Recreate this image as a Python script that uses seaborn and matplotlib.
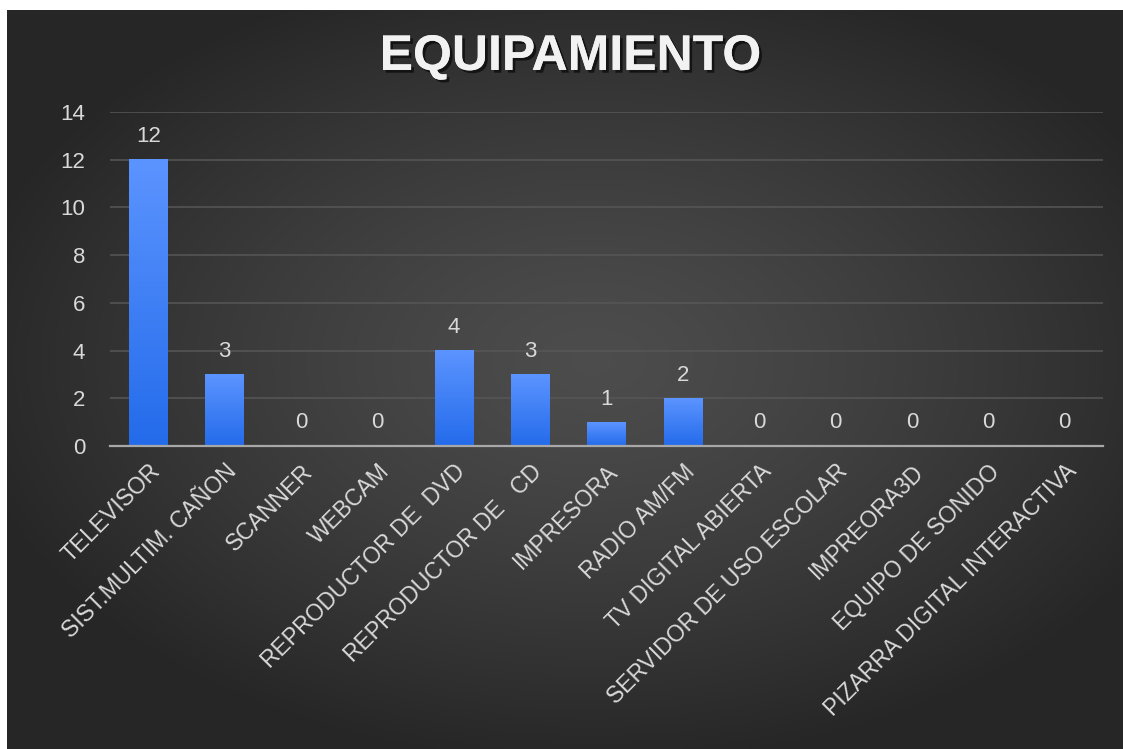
import numpy as np
import matplotlib
matplotlib.use("Agg")
import matplotlib.pyplot as plt
import matplotlib.patheffects as pe
import seaborn as sns

# datos
equipos = ['TELEVISOR', 'SIST.MULTIM. CAÑON', 'SCANNER', 'WEBCAM',
           'REPRODUCTOR DE  DVD', 'REPRODUCTOR DE   CD', 'IMPRESORA',
           'RADIO AM/FM', 'TV DIGITAL ABIERTA', 'SERVIDOR DE USO ESCOLAR',
           'IMPREORA3D', 'EQUIPO DE SONIDO', 'PIZARRA DIGITAL INTERACTIVA']
cantidades = [12, 3, 0, 0, 4, 3, 1, 2, 0, 0, 0, 0, 0]
yticks = [0, 2, 4, 6, 8, 10, 12, 14]
titulo = 'EQUIPAMIENTO'

sns.set_style("dark")
plt.rcParams['font.family'] = ['Liberation Sans', 'DejaVu Sans']
txt_color = '#d9d9d9'

fig = plt.figure(figsize=(11.23, 7.49), dpi=100, facecolor='white')

# fondo oscuro con degradado radial
bg = fig.add_axes([7 / 1123, 0, 1 - 7 / 1123, 1 - 10 / 749], zorder=0)
gx, gy = np.meshgrid(np.linspace(-1, 1, 400), np.linspace(-1, 1, 300))
r = np.sqrt(((gx - 0.05) / 1.15) ** 2 + ((gy - 0.05) / 1.1) ** 2)
r = np.clip(r, 0, 1)
shade = 0.30 - 0.15 * r ** 1.3
bg.imshow(np.dstack([shade, shade, shade]), extent=[0, 1, 0, 1],
          aspect='auto', origin='lower')
bg.set_axis_off()

ax = fig.add_axes([110 / 1123, 1 - 446 / 749, (1103 - 110) / 1123,
                   (446 - 112) / 749], zorder=1)
ax.set_facecolor('none')

sns.barplot(x=equipos, y=cantidades, color='#3a7ff2', width=0.5,
            edgecolor='none', linewidth=0, ax=ax, zorder=3)

# degradado dentro de cada barra
grad = np.linspace(0, 1, 100).reshape(-1, 1)
top = np.array([0.36, 0.58, 1.0])
bot = np.array([0.14, 0.42, 0.92])
img = bot + (top - bot) * grad[:, :, None]
for p in ax.patches:
    if p.get_height() <= 0:
        continue
    x0, y0 = p.get_x(), p.get_y()
    ax.imshow(img, extent=[x0, x0 + p.get_width(), y0, y0 + p.get_height()],
              aspect='auto', origin='lower', zorder=3.5, clip_path=p)

ax.set_xlim(-0.5, len(equipos) - 0.5)
ax.set_ylim(0, 14)
ax.set_yticks(yticks)
ax.grid(axis='y', color='#575757', linewidth=1.1, zorder=0)
ax.grid(axis='x', visible=False)
for s in ['top', 'right', 'left']:
    ax.spines[s].set_visible(False)
ax.spines['bottom'].set_color('#a8a8a8')
ax.spines['bottom'].set_linewidth(1.6)
ax.spines['bottom'].set_zorder(5)

ax.tick_params(axis='y', length=0, pad=18, labelsize=16, labelcolor=txt_color)
ax.tick_params(axis='x', length=0, pad=10, labelsize=16.5, labelcolor=txt_color)
plt.setp(ax.get_xticklabels(), rotation=45, ha='right',
         rotation_mode='anchor')

ax.bar_label(ax.containers[0], padding=9, color=txt_color, fontsize=16)
ax.set_xlabel('')
ax.set_ylabel('')

fig.text(0.508, 0.924, titulo, ha='center', va='center', fontsize=36,
         fontweight='bold', color='#f2f2f2', zorder=5,
         path_effects=[pe.withSimplePatchShadow(offset=(2, -2),
                                                shadow_rgbFace='black',
                                                alpha=0.6),
                       pe.Normal()])

plt.savefig('out.png', dpi=100, facecolor=fig.get_facecolor())
